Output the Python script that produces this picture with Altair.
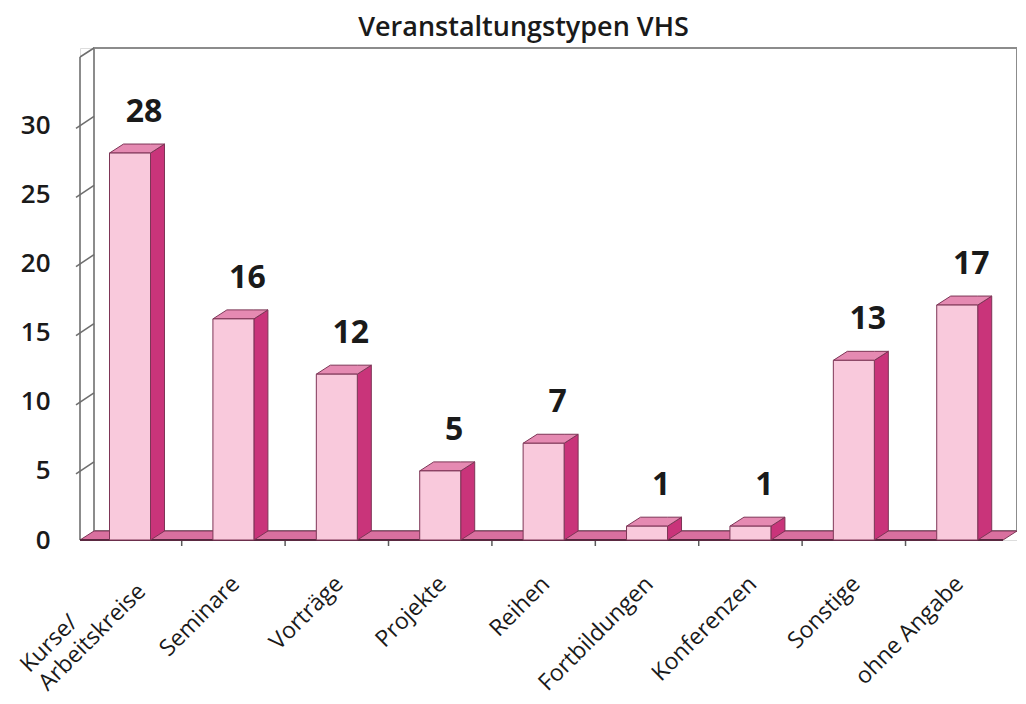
import json
import altair as alt
import pandas as pd

# ---- data ----
categories = ["Kurse/\nArbeitskreise", "Seminare", "Vorträge", "Projekte", "Reihen",
              "Fortbildungen", "Konferenzen", "Sonstige", "ohne Angabe"]
values = [28, 16, 12, 5, 7, 1, 1, 13, 17]
y_ticks = [0, 5, 10, 15, 20, 25, 30]
title_text = "Veranstaltungstypen VHS"

# ---- geometry (scale set-up) ----
W, H = 937, 492
XMIN, XMAX = -0.4836, 8.578
YMIN, YMAX = 0.0, 35.6
px_x = W / (XMAX - XMIN)
px_y = H / (YMAX - YMIN)
DX = 14 / px_x          # depth of the 3D effect, in x units
DY = 9 / px_y           # rise of the 3D effect, in y units
HW = 20.5 / px_x        # half width of the front face
FRONT_TOP = YMAX - DY

FRONT = "#f9c9dc"
SIDE = "#c9347a"
TOP = "#e58ab2"
FLOOR = "#d9709f"
EDGE = "#7d3556"
WALL = "#8c8c8c"

xs = alt.Scale(domain=[XMIN, XMAX], nice=False, zero=False)
ys = alt.Scale(domain=[YMIN, YMAX], nice=False, zero=False)

idx = list(range(len(categories)))
bars = pd.DataFrame({"i": idx, "v": values, "x1": [i - HW for i in idx], "x2": [i + HW for i in idx]})

side_rows, top_rows = [], []
for i, v in zip(idx, values):
    side_rows += [
        {"id": i, "x": i + HW, "y": v, "y2": 0},
        {"id": i, "x": i + HW + DX, "y": v + DY, "y2": DY},
    ]
    top_rows += [
        {"id": i, "x": i - HW, "y": v, "y2": v},
        {"id": i, "x": i - HW + DX, "y": v + DY, "y2": v},
        {"id": i, "x": i + HW, "y": v + DY, "y2": v},
        {"id": i, "x": i + HW + DX, "y": v + DY, "y2": v + DY},
    ]
side = pd.DataFrame(side_rows)
top = pd.DataFrame(top_rows)

floor = pd.DataFrame({
    "x": [XMIN, XMIN + DX, XMAX - DX, XMAX],
    "y": [0, DY, DY, DY],
    "y2": [0, 0, 0, DY],
})

wall = pd.DataFrame({"x": [XMIN + DX], "x2": [XMAX], "y": [DY], "y2": [YMAX]})
front_axis = pd.DataFrame({"x": [XMIN], "y": [0], "y2": [FRONT_TOP]})
slants = pd.DataFrame({
    "x": [XMIN - 4 / px_x] * (len(y_ticks) - 1) + [XMIN],
    "x2": [XMIN + DX] * len(y_ticks),
    "y": [t - 3 / px_y for t in y_ticks[1:]] + [FRONT_TOP],
    "y2": [t + DY for t in y_ticks[1:]] + [YMAX],
})
floor_edge = pd.DataFrame({"x": [XMIN], "x2": [XMAX - DX], "y": [0]})
gaps = pd.DataFrame({"x": [i + 0.5 for i in idx[:-1]],
                     "y": [0] * (len(idx) - 1),
                     "y2": [-6 / px_y] * (len(idx) - 1)})

label_expr = "split(" + json.dumps(categories) + "[datum.value], '\\n')"
multi = "indexof(" + json.dumps(categories) + "[datum.value], '\\n') >= 0"

x_axis = alt.Axis(values=idx, labelExpr=label_expr, labelAngle=-45,
                  labelAlign={"condition": {"test": multi, "value": "left"}, "value": "right"},
                  labelBaseline="middle",
                  labelPadding={"condition": {"test": multi, "value": 128}, "value": 40},
                  labelOffset={"condition": {"test": multi, "value": -106}, "value": 2},
                  tickSize=0, ticks=False,
                  domain=False, grid=False, title=None, labelFontSize=23, labelFont="Open Sans",
                  labelColor="#1a1a1a", labelLineHeight=26, labelOverlap=False, labelFlush=False,
                  labelBound=False)
y_axis = alt.Axis(values=y_ticks, labelPadding=30, tickSize=0, ticks=False, domain=False,
                  grid=False, title=None, labelFontSize=26, labelFont="Open Sans",
                  labelFontWeight=600, labelColor="#1a1a1a")

wall_l = alt.Chart(wall).mark_rect(fill="white", stroke=WALL, strokeWidth=2).encode(
    x=alt.X("x:Q", scale=xs, axis=x_axis), x2="x2", y=alt.Y("y:Q", scale=ys, axis=y_axis), y2="y2")

axis_l = alt.Chart(front_axis).mark_rule(color=WALL, strokeWidth=2).encode(
    x=alt.X("x:Q", scale=xs), y=alt.Y("y:Q", scale=ys), y2="y2")

slant_l = alt.Chart(slants).mark_rule(color="#6e6e6e", strokeWidth=1.5).encode(
    x=alt.X("x:Q", scale=xs), x2="x2", y=alt.Y("y:Q", scale=ys), y2="y2")

floor_l = alt.Chart(floor).mark_area(color=FLOOR, stroke=EDGE, strokeWidth=1, orient="vertical").encode(
    x=alt.X("x:Q", scale=xs), y=alt.Y("y:Q", scale=ys), y2="y2")

edge_l = alt.Chart(floor_edge).mark_rule(color="#5a2840", strokeWidth=2).encode(
    x=alt.X("x:Q", scale=xs), x2="x2", y=alt.Y("y:Q", scale=ys))

gap_l = alt.Chart(gaps).mark_rule(color="#5a5a5a", strokeWidth=1.5).encode(
    x=alt.X("x:Q", scale=xs), y=alt.Y("y:Q", scale=ys), y2="y2")

side_l = alt.Chart(side).mark_area(color=SIDE, stroke=EDGE, strokeWidth=1, orient="vertical").encode(
    x=alt.X("x:Q", scale=xs), y=alt.Y("y:Q", scale=ys), y2="y2", detail="id:N")

top_l = alt.Chart(top).mark_area(color=TOP, stroke=EDGE, strokeWidth=1, orient="vertical").encode(
    x=alt.X("x:Q", scale=xs), y=alt.Y("y:Q", scale=ys), y2="y2", detail="id:N")

front_l = alt.Chart(bars).mark_bar(color=FRONT, stroke=EDGE, strokeWidth=1).encode(
    x=alt.X("x1:Q", scale=xs), x2="x2", y=alt.Y("v:Q", scale=ys), y2=alt.datum(0))

text_l = alt.Chart(bars).mark_text(fontSize=32, fontWeight="bold", font="Open Sans", color="#1a1a1a",
                                   dx=14, dy=-41, baseline="middle").encode(
    x=alt.X("i:Q", scale=xs), y=alt.Y("v:Q", scale=ys), text="v:Q")

chart = alt.layer(wall_l, axis_l, slant_l, floor_l, gap_l, edge_l, side_l, top_l, front_l, text_l).properties(
    width=W, height=H,
    title=alt.TitleParams(title_text, fontSize=27, font="Open Sans", fontWeight=600, color="#1a1a1a",
                          anchor="middle", dx=-25, offset=5),
    autosize=alt.AutoSizeParams(type="none"),
    padding={"left": 72, "top": 40, "right": 0, "bottom": 160},
).configure_view(stroke=None).configure(background="white")

chart.save("out.html", embed_options={"renderer": "svg", "actions": False})
